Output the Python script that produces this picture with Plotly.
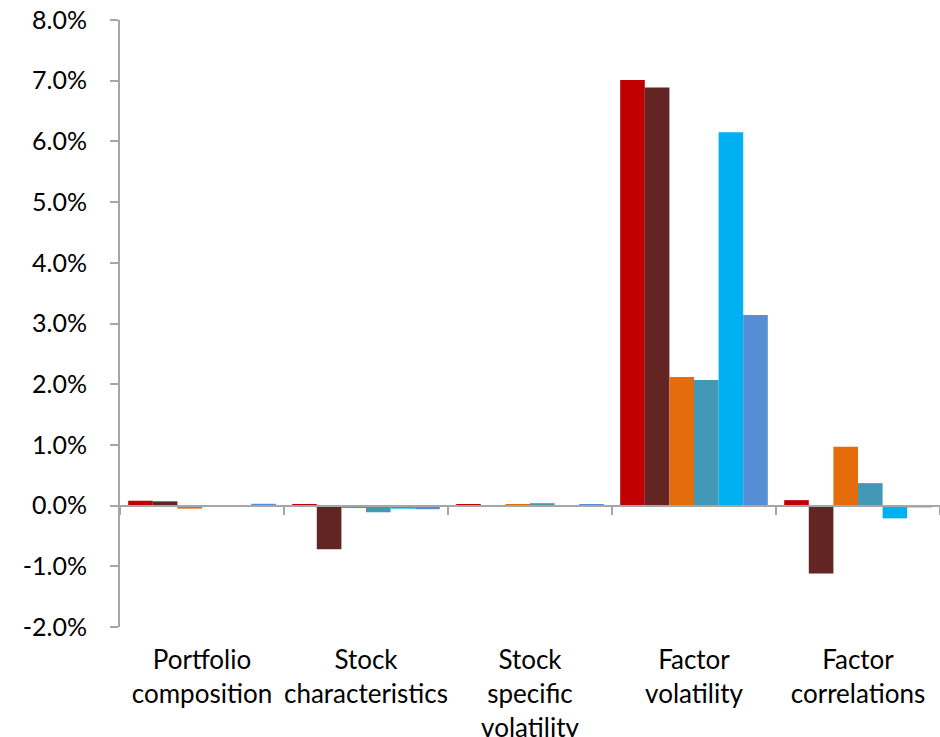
import plotly.graph_objects as go

categories = ["Portfolio<br>composition", "Stock<br>characteristics",
              "Stock<br>specific<br>volatility", "Factor<br>volatility",
              "Factor<br>correlations"]

series_names = ["Series 1", "Series 2", "Series 3", "Series 4", "Series 5", "Series 6"]
series_colors = ["#C00000", "#632523", "#E46C0A", "#4298B5", "#00B0F0", "#558ED5"]

s1 = [0.08, 0.02, 0.02, 7.01, 0.09]
s2 = [0.07, -0.72, 0.00, 6.89, -1.12]
s3 = [-0.05, -0.04, 0.01, 2.12, 0.97]
s4 = [-0.01, -0.11, 0.04, 2.07, 0.37]
s5 = [0.00, -0.05, 0.00, 6.15, -0.21]
s6 = [0.03, -0.06, 0.01, 3.14, -0.03]
series_values = [s1, s2, s3, s4, s5, s6]

y_ticks = [-2, -1, 0, 1, 2, 3, 4, 5, 6, 7, 8]
y_tick_labels = ["-2.0%", "-1.0%", "0.0%", "1.0%", "2.0%", "3.0%",
                 "4.0%", "5.0%", "6.0%", "7.0%", "8.0%"]

fig = go.Figure()
for name, color, vals in zip(series_names, series_colors, series_values):
    fig.add_trace(go.Bar(x=categories, y=vals, name=name,
                         marker=dict(color=color, line=dict(width=0)),
                         showlegend=False))

# dummy trace so the zero-line axis with category separators is drawn
fig.add_trace(go.Scatter(x=[None], y=[None], xaxis="x2", yaxis="y",
                         showlegend=False, hoverinfo="skip"))

axis_grey = "#A6A6A6"
fig.update_layout(
    width=940, height=737,
    margin=dict(l=120, r=0, t=20, b=110, autoexpand=False),
    plot_bgcolor="white", paper_bgcolor="white",
    barmode="group", bargap=0.1, bargroupgap=0,
    xaxis=dict(
        categoryorder="array", categoryarray=categories,
        showline=False, ticks="", showgrid=False, zeroline=False,
        tickfont=dict(family="Lato", size=26, color="#000000"),
        ticklabelstandoff=15, automargin=False,
    ),
    xaxis2=dict(
        overlaying="x", anchor="free", position=0.2,
        range=[-0.5, 4.5], tick0=0.5, dtick=1,
        showticklabels=False, showgrid=False, zeroline=False,
        showline=True, linecolor=axis_grey, linewidth=2,
        ticks="outside", ticklen=8, tickwidth=2, tickcolor=axis_grey,
        automargin=False,
    ),
    yaxis=dict(
        range=[-2, 8], tickvals=y_ticks, ticktext=y_tick_labels,
        showgrid=False, zeroline=False,
        showline=True, linecolor=axis_grey, linewidth=2,
        ticks="outside", ticklen=8, tickwidth=2, tickcolor=axis_grey,
        tickfont=dict(family="Lato", size=25, color="#000000"),
        ticklabelstandoff=18, automargin=False,
    ),
)

fig.write_html("out.html")
